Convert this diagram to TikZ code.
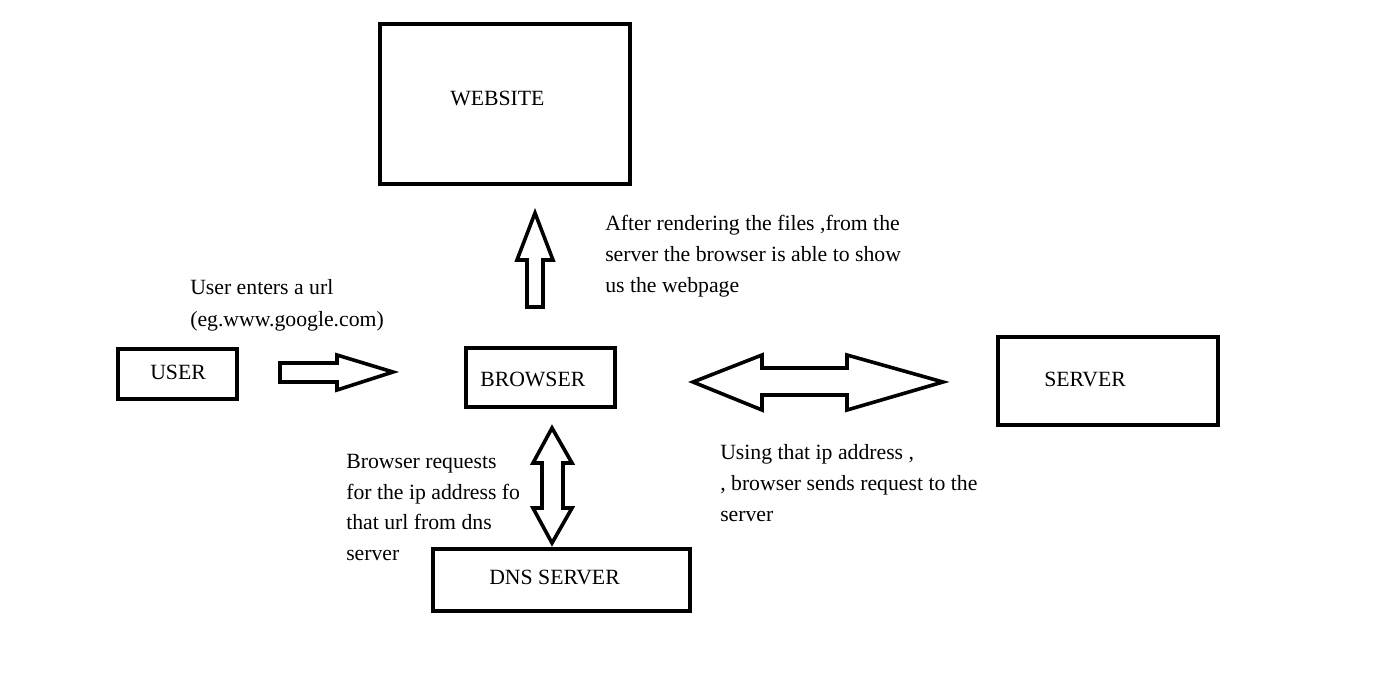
\documentclass[tikz,border=0pt]{standalone}
\usepackage{fontspec}
\setmainfont{Liberation Serif}
\begin{document}
\begin{tikzpicture}[x=0.75pt,y=-0.75pt,
  box/.style={draw,line width=3pt,inner sep=0pt},
  blockarrow/.style={draw,line width=2.7pt,line join=miter,fill=white},
  txt/.style={anchor=base west,inner sep=0pt,font=\fontsize{16.3}{23}\selectfont}]
\useasboundingbox (0,0) rectangle (1400,676);
% boxes
\node[box,minimum width=250*0.75pt,minimum height=160*0.75pt] (website) at (505,104) {};
\node[box,minimum width=119*0.75pt,minimum height=50*0.75pt] (user) at (177.5,374) {};
\node[box,minimum width=149*0.75pt,minimum height=59*0.75pt] (browser) at (540.5,377.5) {};
\node[box,minimum width=220*0.75pt,minimum height=88*0.75pt] (server) at (1108,381) {};
\node[box,minimum width=257*0.75pt,minimum height=62*0.75pt] (dns) at (561.5,580) {};
% box labels
\node[txt] (tw) at (450,105) {WEBSITE};
\node[txt] (tu) at (150,379) {USER};
\node[txt] (tb) at (480,386) {BROWSER};
\node[txt] (ts) at (1044,386) {SERVER};
\node[txt] (td) at (489,584) {DNS SERVER};
% block arrows
\draw[blockarrow] (280,363) -- (337,363) -- (337,355) -- (393,372) -- (337,390) -- (337,382) -- (280,382) -- cycle;
\draw[blockarrow] (527,307) -- (527,260) -- (517,260) -- (535,213) -- (553,260) -- (543,260) -- (543,307) -- cycle;
\draw[blockarrow] (693,382) -- (762,355) -- (762,368) -- (847,368) -- (847,355) -- (943,382) -- (847,410) -- (847,395) -- (762,395) -- (762,410) -- cycle;
\draw[blockarrow] (552,428) -- (572,463) -- (563,463) -- (563,508) -- (572,508) -- (552,543) -- (533,508) -- (542,508) -- (542,463) -- (533,463) -- cycle;
% annotations
\node[txt] (u1) at (190,294) {User enters a url};
\node[txt] (u2) at (190,326) {(eg.www.google.com)};
\node[txt] (a1) at (605,230) {After rendering the files ,from the};
\node[txt] (a2) at (605,261) {server the browser is able to show};
\node[txt] (a3) at (605,292) {us the webpage};
\node[txt] (b1) at (346,468) {Browser requests};
\node[txt] (b2) at (346,499) {for the ip address fo};
\node[txt] (b3) at (346,529) {that url from dns};
\node[txt] (b4) at (346,560) {server};
\node[txt] (s1) at (720,459) {Using that ip address ,};
\node[txt] (s2) at (720,490) {, browser sends request to the};
\node[txt] (s3) at (720,521) {server};
\end{tikzpicture}
\end{document}
